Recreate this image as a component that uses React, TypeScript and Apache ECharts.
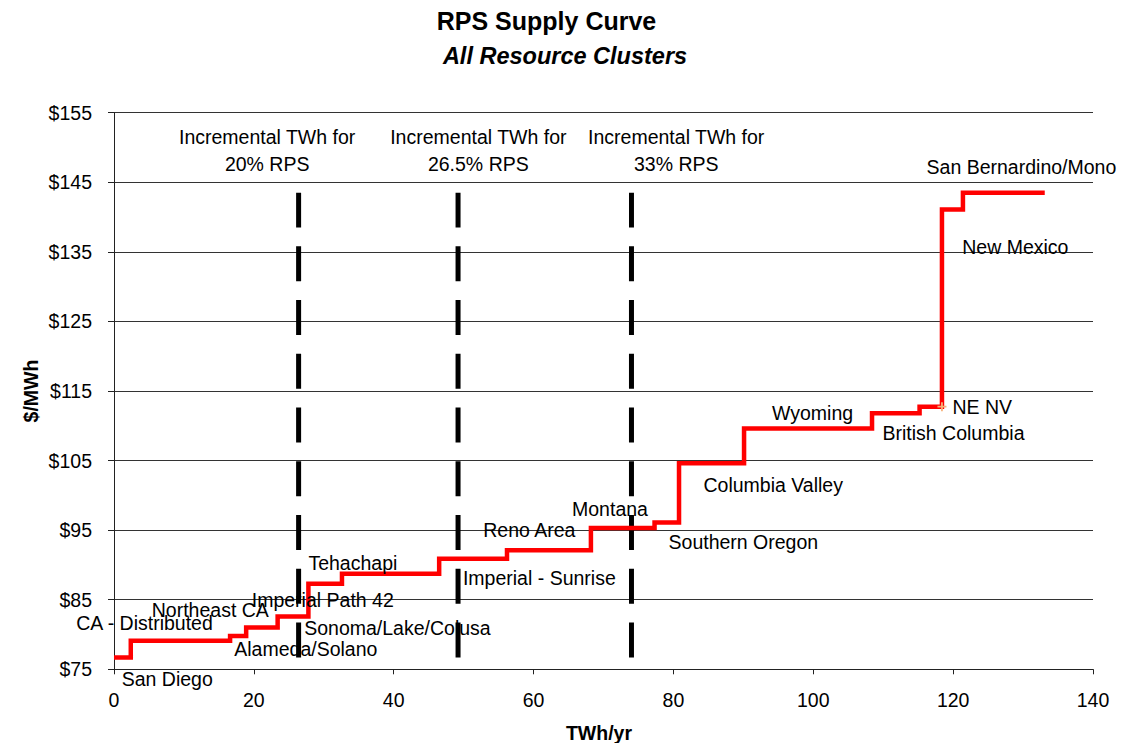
import React, { useEffect, useRef } from "react";
import * as echarts from "echarts";

// Resource clusters in supply-curve order
const clusters = [
  "San Diego",
  "CA - Distributed",
  "Alameda/Solano",
  "Northeast CA",
  "Imperial Path 42",
  "Sonoma/Lake/Colusa",
  "Tehachapi",
  "Imperial - Sunrise",
  "Reno Area",
  "Montana",
  "Southern Oregon",
  "Columbia Valley",
  "Wyoming",
  "British Columbia",
  "NE NV",
  "New Mexico",
  "San Bernardino/Mono",
];
// Cumulative TWh/yr at the end of each cluster's step
const cumulativeTWh = [2.4, 16.6, 18.9, 23.4, 27.8, 32.6, 46.5, 56.2, 68.2, 77.3, 80.8, 90.1, 108.4, 115.2, 118.4, 121.4, 133.1];
// Cost of each cluster, $/MWh
const costPerMWh = [76.7, 79.1, 79.8, 81.0, 82.6, 87.3, 88.75, 90.9, 92.1, 95.3, 96.1, 104.6, 109.6, 111.8, 112.75, 141.1, 143.5];
// Where each cluster's name is written (data units)
const labelTWh = [1.1, -5.4, 17.2, 5.4, 19.7, 27.2, 27.8, 49.9, 52.8, 65.5, 79.3, 84.3, 94.1, 109.9, 119.9, 121.3, 116.2];
const labelCost = [73.6, 81.7, 77.9, 83.5, 85.0, 81.0, 90.35, 88.1, 95.0, 98.0, 93.3, 101.5, 111.8, 109.0, 112.7, 135.7, 147.25];

// RPS target markers
const rpsTargets = ["20%", "26.5%", "33%"];
const rpsIncrementalTWh = [26.4, 49.2, 74.0];
const rpsNoteTWh = [21.9, 52.1, 80.4];
const rpsNoteCost = 149.6;

// Axes
const yMin = 75;
const yMax = 155;
const yStep = 10;
const xMin = 0;
const xMax = 140;
const xStep = 20;

const FONT = '"Liberation Sans", Arial, Helvetica, sans-serif';
const FS = 19.5;

export default function App() {
  const ref = useRef<HTMLDivElement>(null);

  useEffect(() => {
    if (!ref.current) return;
    const chart = echarts.init(ref.current, undefined, { renderer: "svg" });

    // step curve points
    const curve: number[][] = [];
    let start = 0;
    costPerMWh.forEach((c, i) => {
      curve.push([start, c]);
      curve.push([cumulativeTWh[i], c]);
      start = cumulativeTWh[i];
    });

    const lo = Math.min(...costPerMWh);
    const hi = Math.max(...costPerMWh);

    const dashSeries = rpsIncrementalTWh.map((x) => ({
      type: "line",
      data: [
        [x, lo],
        [x, hi],
      ],
      showSymbol: false,
      silent: true,
      z: 3,
      lineStyle: { color: "#000", width: 5, type: [35, 18.75] },
    }));

    const nePt = clusters.indexOf("NE NV");

    const labelStyle = {
      show: true,
      color: "#000",
      opacity: 1,
      textBorderWidth: 0,
      fontSize: FS,
      fontFamily: FONT,
    };

    const option: any = {
      animation: false,
      backgroundColor: "#fff",
      grid: { left: 114, top: 112.7, width: 979, height: 556.6, containLabel: false },
      xAxis: {
        type: "value",
        min: xMin,
        max: xMax,
        interval: xStep,
        axisLine: { show: true, lineStyle: { color: "#222", width: 1 } },
        axisTick: { show: true, inside: false, length: 5, lineStyle: { color: "#222" } },
        axisLabel: { color: "#000", fontSize: FS, fontFamily: FONT, margin: 21 },
        splitLine: { show: false },
      },
      yAxis: {
        type: "value",
        min: yMin,
        max: yMax,
        interval: yStep,
        axisLine: { show: true, lineStyle: { color: "#222", width: 1 } },
        axisTick: { show: true, inside: false, length: 6, lineStyle: { color: "#222" } },
        axisLabel: {
          color: "#000",
          fontSize: FS,
          fontFamily: FONT,
          margin: 22,
          formatter: (v: number) => "$" + v,
        },
        splitLine: { show: true, lineStyle: { color: "#333", width: 1 } },
      },
      graphic: [
        {
          type: "text",
          x: 546.5,
          y: 21,
          style: {
            text: "RPS Supply Curve",
            align: "center",
            verticalAlign: "middle",
            font: "bold 25px " + FONT,
            fill: "#000",
          },
        },
        {
          type: "text",
          x: 565,
          y: 56,
          style: {
            text: "All Resource Clusters",
            align: "center",
            verticalAlign: "middle",
            font: "italic bold 23.5px " + FONT,
            fill: "#000",
          },
        },
        {
          type: "text",
          x: 599,
          y: 733,
          style: {
            text: "TWh/yr",
            align: "center",
            verticalAlign: "middle",
            font: "bold 19.5px " + FONT,
            fill: "#000",
          },
        },
        {
          type: "text",
          x: 31,
          y: 391,
          rotation: Math.PI / 2,
          style: {
            text: "$/MWh",
            align: "center",
            verticalAlign: "middle",
            font: "bold 19.5px " + FONT,
            fill: "#000",
          },
        },
      ],
      series: [
        ...dashSeries,
        {
          type: "line",
          data: curve,
          showSymbol: false,
          silent: true,
          z: 4,
          lineStyle: { color: "#ff0000", width: 4.5, cap: "butt", join: "miter" },
        },
        {
          type: "scatter",
          data: [[cumulativeTWh[nePt], costPerMWh[nePt]]],
          symbol: "path://M4 0H6V4H10V6H6V10H4V6H0V4H4Z",
          symbolSize: 9,
          silent: true,
          z: 5,
          itemStyle: { color: "#f7b27a", opacity: 1 },
        },
        {
          type: "scatter",
          data: clusters.map((n, i) => [labelTWh[i], labelCost[i], n]),
          symbolSize: 0,
          clip: false,
          silent: true,
          z: 6,
          itemStyle: { opacity: 1, color: "#000" },
          label: {
            ...labelStyle,
            position: "right",
            distance: 0,
            align: "left",
            verticalAlign: "middle",
            formatter: (p: any) => p.data[2],
          },
          labelLayout: { hideOverlap: false },
        },
        {
          type: "scatter",
          data: rpsTargets.map((t, i) => [rpsNoteTWh[i], rpsNoteCost, t]),
          symbolSize: 0,
          clip: false,
          silent: true,
          z: 6,
          itemStyle: { opacity: 1, color: "#000" },
          label: {
            ...labelStyle,
            position: "inside",
            align: "center",
            verticalAlign: "middle",
            lineHeight: 27,
            formatter: (p: any) => "Incremental TWh for\n" + p.data[2] + " RPS",
          },
          labelLayout: { hideOverlap: false },
        },
      ],
    };

    chart.setOption(option);
    return () => chart.dispose();
  }, []);

  return (
    <div
      ref={ref}
      style={{ position: "fixed", left: 0, top: 0, width: 1125, height: 743, background: "#fff" }}
    />
  );
}
